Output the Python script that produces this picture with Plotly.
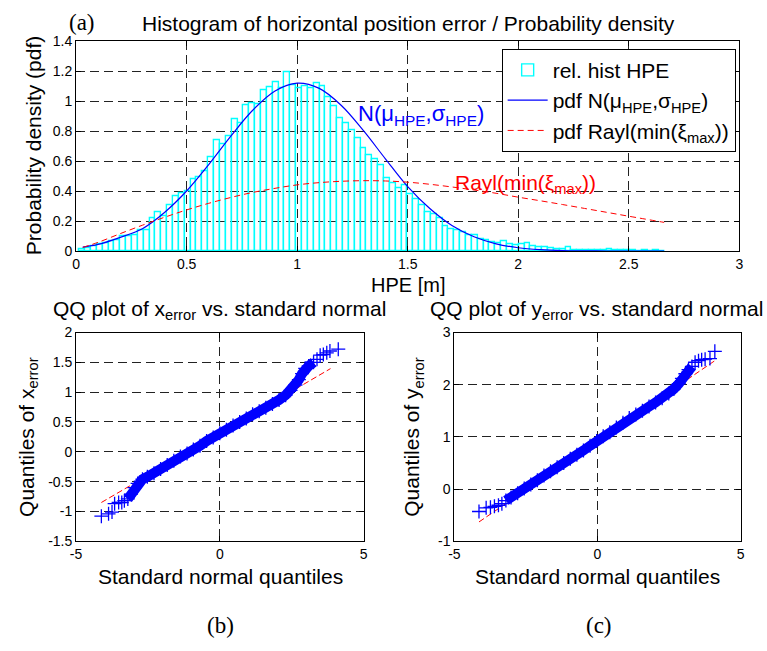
import plotly.graph_objects as go

W, H = 767, 651

# ---------------- DATA ----------------
# histogram (relative histogram of HPE): 100 bins, edges start at 0.015, width 0.0265
bin_start = 0.015
bin_width = 0.0265
hist_heights = [
    0.013, 0.021, 0.034, 0.047, 0.056, 0.067, 0.073, 0.097, 0.099, 0.108,
    0.143, 0.143, 0.217, 0.260, 0.234, 0.306, 0.365, 0.386, 0.400, 0.477,
    0.495, 0.534, 0.625, 0.738, 0.716, 0.768, 0.881, 0.853, 0.972, 0.990,
    0.977, 1.076, 1.094, 1.124, 1.085, 1.193, 1.107, 1.090, 1.100, 1.090,
    1.120, 1.100, 1.030, 0.970, 0.885, 0.853, 0.809, 0.751, 0.690, 0.642,
    0.614, 0.571, 0.484, 0.456, 0.419, 0.440, 0.382, 0.347, 0.310, 0.260,
    0.245, 0.219, 0.169, 0.147, 0.137, 0.126, 0.108, 0.104, 0.082, 0.071,
    0.061, 0.056, 0.065, 0.050, 0.039, 0.050, 0.054, 0.034, 0.030, 0.025,
    0.020, 0.014, 0.014, 0.024, 0.010, 0.008, 0.008, 0.006, 0.006, 0.010,
    0.012, 0.005, 0.004, 0.006, 0.004, 0.003, 0.005, 0.003, 0.004, 0.003,
]
hist_x = [bin_start + (i + 0.5) * bin_width for i in range(len(hist_heights))]

# fitted normal pdf curve
norm_x = [0.03, 0.1, 0.2, 0.3, 0.4, 0.5, 0.6, 0.7, 0.8, 0.9, 1.0, 1.1, 1.2, 1.3,
          1.4, 1.5, 1.6, 1.7, 1.8, 1.9, 2.0, 2.1, 2.2, 2.3, 2.4, 2.5, 2.66]
norm_y = [0.027, 0.045, 0.092, 0.150, 0.258, 0.401, 0.577, 0.767, 0.941, 1.068,
          1.120, 1.085, 0.971, 0.803, 0.614, 0.430, 0.284, 0.171, 0.096, 0.049,
          0.023, 0.010, 0.004, 0.002, 0.001, 0.000, 0.000]

# Rayleigh pdf curve
rayl_x = [0.03, 0.1, 0.2, 0.3, 0.4, 0.5, 0.6, 0.7, 0.8, 0.9, 1.0, 1.1, 1.2, 1.3,
          1.4, 1.5, 1.6, 1.7, 1.8, 1.9, 2.0, 2.1, 2.2, 2.3, 2.4, 2.5, 2.66]
rayl_y = [0.025, 0.059, 0.117, 0.173, 0.226, 0.275, 0.319, 0.358, 0.392, 0.419,
          0.442, 0.457, 0.466, 0.470, 0.468, 0.460, 0.446, 0.428, 0.408, 0.386,
          0.360, 0.336, 0.311, 0.285, 0.259, 0.233, 0.192]

# QQ plot of x_error
qqx_tail_x = [-4.12, -3.87, -3.75, -3.66, -3.52, -3.41, -3.32,
              3.38, 3.49, 3.60, 3.72, 3.83, 4.12]
qqx_tail_y = [-1.08, -1.04, -1.01, -0.87, -0.85, -0.85, -0.82,
              1.55, 1.62, 1.63, 1.66, 1.69, 1.72]
qqx_body_x = [-3.20, -3.09, -2.97, -2.86, -2.69, -2.52, -2.29, -2.06, -1.83, -1.60,
              -1.37, -1.14, -0.92, -0.69, -0.46, -0.23, 0.00, 0.23, 0.46, 0.69,
              0.92, 1.14, 1.37, 1.60, 1.83, 2.06, 2.29, 2.46, 2.63, 2.75,
              2.86, 2.97, 3.09, 3.26]
qqx_body_y = [-0.79, -0.71, -0.60, -0.53, -0.46, -0.42, -0.36, -0.29, -0.22, -0.15,
              -0.08, -0.03, 0.04, 0.10, 0.18, 0.24, 0.31, 0.37, 0.44, 0.50,
              0.56, 0.63, 0.68, 0.74, 0.80, 0.87, 0.95, 1.03, 1.12, 1.21,
              1.31, 1.40, 1.44, 1.50]
qqx_ref_x = [-4.12, 3.85]
qqx_ref_y = [-0.85, 1.395]

# QQ plot of y_error
qqy_tail_x = [-4.14, -3.89, -3.74, -3.60, -3.46, -3.34,
              3.41, 3.53, 3.64, 3.76, 3.93, 4.10]
qqy_tail_y = [-0.43, -0.36, -0.35, -0.33, -0.31, -0.28,
              2.43, 2.46, 2.48, 2.49, 2.50, 2.64]
qqy_body_x = [-3.20, -3.02, -2.79, -2.56, -2.33, -2.10, -1.87, -1.64, -1.41, -1.18,
              -0.95, -0.72, -0.49, -0.26, -0.03, 0.20, 0.43, 0.66, 0.89, 1.11,
              1.34, 1.57, 1.80, 2.03, 2.26, 2.49, 2.67, 2.84, 2.95, 3.07,
              3.18, 3.30]
qqy_body_y = [-0.22, -0.16, -0.08, 0.01, 0.09, 0.17, 0.26, 0.34, 0.42, 0.50,
              0.58, 0.66, 0.74, 0.83, 0.92, 1.01, 1.09, 1.18, 1.27, 1.36,
              1.43, 1.50, 1.58, 1.66, 1.74, 1.83, 1.92, 2.02, 2.12, 2.21,
              2.29, 2.35]
qqy_ref_x = [-4.14, 4.10]
qqy_ref_y = [-0.63, 2.46]

# tick labels
top_xticks = [0, 0.5, 1, 1.5, 2, 2.5, 3]
top_xlabels = ["0", "0.5", "1", "1.5", "2", "2.5", "3"]
top_yticks = [0, 0.2, 0.4, 0.6, 0.8, 1.0, 1.2, 1.4]
top_ylabels = ["0", "0.2", "0.4", "0.6", "0.8", "1", "1.2", "1.4"]
qq_xticks = [-5, 0, 5]
qq_xlabels = ["-5", "0", "5"]
qqx_yticks = [-1.5, -1, -0.5, 0, 0.5, 1, 1.5, 2]
qqx_ylabels = ["-1.5", "-1", "-0.5", "0", "0.5", "1", "1.5", "2"]
qqy_yticks = [-1, 0, 1, 2, 3]
qqy_ylabels = ["-1", "0", "1", "2", "3"]

# ---------------- FIGURE ----------------
def fx(px):
    return px / W

def fy(py):
    return 1 - py / H

BLUE = "#0000FF"
RED = "#FF0000"
CYAN = "#00FFFF"
FONT = "Liberation Sans"

fig = go.Figure()

fig.add_trace(go.Bar(
    x=hist_x, y=hist_heights, width=bin_width,
    marker=dict(color="rgba(255,255,255,0)", line=dict(color=CYAN, width=1.4)),
    name="rel. hist HPE", xaxis="x", yaxis="y"))
fig.add_trace(go.Scatter(
    x=norm_x, y=norm_y, mode="lines", line=dict(color=BLUE, width=1.2, shape="spline"),
    name="pdf N(μ<sub>HPE</sub>,σ<sub>HPE</sub>)", xaxis="x", yaxis="y"))
fig.add_trace(go.Scatter(
    x=rayl_x, y=rayl_y, mode="lines",
    line=dict(color=RED, width=1, dash="6px,4px", shape="spline"),
    name="pdf Rayl(min(ξ<sub>max</sub>))", xaxis="x", yaxis="y"))

for (rx, ry, bx, by, tx, ty, xa, ya) in [
        (qqx_ref_x, qqx_ref_y, qqx_body_x, qqx_body_y, qqx_tail_x, qqx_tail_y, "x2", "y2"),
        (qqy_ref_x, qqy_ref_y, qqy_body_x, qqy_body_y, qqy_tail_x, qqy_tail_y, "x3", "y3")]:
    fig.add_trace(go.Scatter(x=rx, y=ry, mode="lines", showlegend=False,
                             line=dict(color=RED, width=1, dash="6px,3px"),
                             xaxis=xa, yaxis=ya))
    fig.add_trace(go.Scatter(x=bx, y=by, mode="lines+markers", showlegend=False,
                             line=dict(color=BLUE, width=10),
                             marker=dict(symbol="cross-thin", size=10,
                                         line=dict(color=BLUE, width=1.3)),
                             xaxis=xa, yaxis=ya))
    fig.add_trace(go.Scatter(x=tx, y=ty, mode="markers", showlegend=False,
                             marker=dict(symbol="cross-thin", size=10,
                                         line=dict(color=BLUE, width=1.3)),
                             xaxis=xa, yaxis=ya))

axis_common = dict(showline=True, linecolor="black", linewidth=1, mirror="ticks",
                   ticks="inside", ticklen=5, tickcolor="black", tickwidth=1,
                   showgrid=True, gridcolor="#222222", gridwidth=1, griddash="9px,5px",
                   zeroline=False, tickfont=dict(family=FONT, size=14, color="black"))

fig.update_layout(
    width=W, height=H, margin=dict(l=0, r=0, t=0, b=0),
    paper_bgcolor="white", plot_bgcolor="white",
    font=dict(family=FONT, color="black"),
    bargap=0,
    xaxis=dict(domain=[fx(71), fx(743)], range=[0, 3], tickvals=top_xticks,
               ticktext=top_xlabels, anchor="y", **axis_common),
    yaxis=dict(domain=[fy(249.3), fy(34)], range=[0, 1.4], tickvals=top_yticks,
               ticktext=top_ylabels, anchor="x", **axis_common),
    xaxis2=dict(domain=[fx(71), fx(362.3)], range=[-5, 5], tickvals=qq_xticks,
                ticktext=qq_xlabels, anchor="y2", **axis_common),
    yaxis2=dict(domain=[fy(546.7), fy(332.7)], range=[-1.5, 2], tickvals=qqx_yticks,
                ticktext=qqx_ylabels, anchor="x2", **axis_common),
    xaxis3=dict(domain=[fx(454.3), fx(744.3)], range=[-5, 5], tickvals=qq_xticks,
                ticktext=qq_xlabels, anchor="y3", **axis_common),
    yaxis3=dict(domain=[fy(546.7), fy(332.7)], range=[-1, 3], tickvals=qqy_yticks,
                ticktext=qqy_ylabels, anchor="x3", **axis_common),
    showlegend=True,
    legend=dict(x=fx(739.3), y=fy(41.7), xanchor="right", yanchor="top",
                bgcolor="white", bordercolor="black", borderwidth=1,
                font=dict(family=FONT, size=21, color="black"),
                tracegroupgap=0, itemwidth=40),
)

def ann(text, px, py, size=20, color="black", family=FONT, angle=0, xanchor="center"):
    fig.add_annotation(text=text, x=fx(px), y=fy(py), xref="paper", yref="paper",
                       showarrow=False, xanchor=xanchor, yanchor="middle",
                       textangle=angle, font=dict(family=family, size=size, color=color))

ann("(a)", 77, 15, size=23, family="Liberation Serif")
ann("Histogram of horizontal position error / Probability density", 408, 16, size=21)
ann("HPE [m]", 407, 284, size=20)
ann("Probability density (pdf)", 28, 141, size=21, angle=-90)

ann("QQ plot of x<sub>error</sub> vs. standard normal", 216, 310, size=21)
ann("QQ plot of y<sub>error</sub> vs. standard normal", 598, 310, size=21)
ann("Standard normal quantiles", 217, 583, size=21)
ann("Standard normal quantiles", 599, 583, size=21)
ann("Quantiles of x<sub>error</sub>", 22, 440, size=21, angle=-90)
ann("Quantiles of y<sub>error</sub>", 413, 440, size=21, angle=-90)
ann("(b)", 217, 633, size=23, family="Liberation Serif")
ann("(c)", 601, 633, size=23, family="Liberation Serif")

# curve labels in data coordinates
fig.add_annotation(text="N(μ<sub>HPE</sub>,σ<sub>HPE</sub>)", x=1.268, y=0.91, xref="x", yref="y",
                   showarrow=False, xanchor="left", yanchor="middle",
                   font=dict(family=FONT, size=22, color=BLUE))
fig.add_annotation(text="Rayl(min(ξ<sub>max</sub>))", x=1.705, y=0.45, xref="x", yref="y",
                   showarrow=False, xanchor="left", yanchor="middle",
                   font=dict(family=FONT, size=21, color=RED))

fig.write_html("out.html")
